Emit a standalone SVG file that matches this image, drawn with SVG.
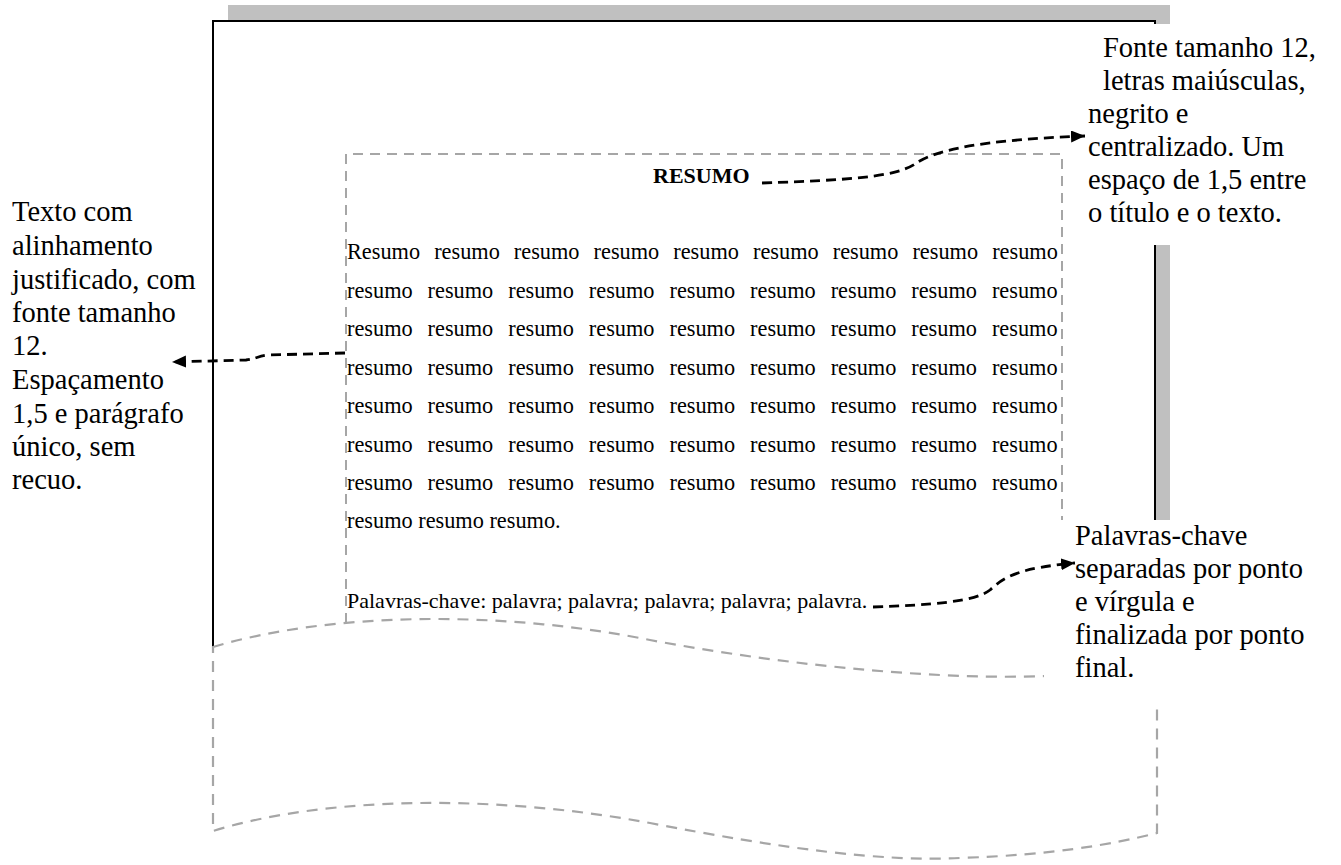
<svg xmlns="http://www.w3.org/2000/svg" width="1341" height="865" viewBox="0 0 1341 865">
  <defs>
    <marker id="arrow" markerUnits="userSpaceOnUse" markerWidth="16" markerHeight="14" refX="14" refY="6" orient="auto">
      <path d="M0,0 L14,6 L0,12 z" fill="#000"/>
    </marker>
    <style>
      .body { font-family: "Liberation Serif", "Times New Roman", serif; font-size: 22.3px; fill: #000; }
      .kw { font-family: "Liberation Serif", "Times New Roman", serif; font-size: 22px; fill: #000; }
      .lbl { font-family: "Liberation Serif", "Times New Roman", serif; font-size: 28.5px; fill: #000; }
      .title { font-family: "Liberation Serif", "Times New Roman", serif; font-size: 22px; font-weight: bold; fill: #000; }
      .gdash { fill: none; stroke: #a6a6a6; stroke-width: 2; stroke-dasharray: 10 7; }
      .conn { fill: none; stroke: #000; stroke-width: 2.8; stroke-dasharray: 10 6; }
      .bg { fill: #fff; stroke: none; }
    </style>
  </defs>

  <g id="page">
    <rect x="228" y="5" width="942" height="650" fill="#c0c0c0"/>
    <rect x="213" y="21" width="942" height="640" fill="#fff"/>
    <path d="M213,648 L213,21 L1155,21 L1155,660" fill="none" stroke="#000" stroke-width="2"/>
    <path class="gdash" d="M346,640 L346,154 L1062,154 L1062,640"/>
    <path d="M213,647 C330,612 500,610 650,640 C800,668 950,680 1045,676 C1090,674 1130,665 1157,655 L1157,833 C1110,845 1050,855 960,858 C880,862 780,848 650,823 C500,795 330,795 213,831 Z" fill="#fff" stroke="#a6a6a6" stroke-width="2.2" stroke-dasharray="11 8"/>
  </g>

  <g id="content">
    <text class="title" x="653" y="183">RESUMO</text>
    <text class="body" x="347" y="259" style="word-spacing:8.5px">Resumo resumo resumo resumo resumo resumo resumo resumo resumo</text>
    <text class="body" x="347" y="297.5" style="word-spacing:9.4px">resumo resumo resumo resumo resumo resumo resumo resumo resumo</text>
    <text class="body" x="347" y="336" style="word-spacing:9.4px">resumo resumo resumo resumo resumo resumo resumo resumo resumo</text>
    <text class="body" x="347" y="374.5" style="word-spacing:9.4px">resumo resumo resumo resumo resumo resumo resumo resumo resumo</text>
    <text class="body" x="347" y="413" style="word-spacing:9.4px">resumo resumo resumo resumo resumo resumo resumo resumo resumo</text>
    <text class="body" x="347" y="451.5" style="word-spacing:9.4px">resumo resumo resumo resumo resumo resumo resumo resumo resumo</text>
    <text class="body" x="347" y="490" style="word-spacing:9.4px">resumo resumo resumo resumo resumo resumo resumo resumo resumo</text>
    <text class="body" x="347" y="528">resumo resumo resumo.</text>
    <text class="kw" x="347" y="608">Palavras-chave: palavra; palavra; palavra; palavra; palavra.</text>
  </g>

  <g id="label-left">
    <rect class="bg" x="0" y="190" width="205" height="310"/>
    <text class="lbl" x="12" y="221">Texto com</text>
    <text class="lbl" x="12" y="255">alinhamento</text>
    <text class="lbl" x="12" y="289">justificado, com</text>
    <text class="lbl" x="12" y="322">fonte tamanho</text>
    <text class="lbl" x="12" y="355">12.</text>
    <text class="lbl" x="12" y="389">Espaçamento</text>
    <text class="lbl" x="12" y="423">1,5 e parágrafo</text>
    <text class="lbl" x="12" y="456">único, sem</text>
    <text class="lbl" x="12" y="489">recuo.</text>
  </g>

  <g id="label-title">
    <rect class="bg" x="1066" y="24" width="275" height="221"/>
    <text class="lbl" x="1103" y="57">Fonte tamanho 12,</text>
    <text class="lbl" x="1103" y="90">letras maiúsculas,</text>
    <text class="lbl" x="1088" y="123">negrito e</text>
    <text class="lbl" x="1088" y="156">centralizado. Um</text>
    <text class="lbl" x="1088" y="189">espaço de 1,5 entre</text>
    <text class="lbl" x="1088" y="222">o título e o texto.</text>
  </g>

  <g id="label-keywords">
    <rect class="bg" x="1044" y="520" width="297" height="185"/>
    <text class="lbl" x="1075" y="545">Palavras-chave</text>
    <text class="lbl" x="1075" y="578">separadas por ponto</text>
    <text class="lbl" x="1075" y="611">e vírgula e</text>
    <text class="lbl" x="1075" y="644">finalizada por ponto</text>
    <text class="lbl" x="1075" y="677">final.</text>
  </g>

  <g id="connectors">
    <path class="conn" d="M762,183 C850,180 895,177 915,164 C935,150 980,140 1085,136" marker-end="url(#arrow)"/>
    <path class="conn" d="M345,353 L268,355 C258,356 256,359 246,360 L172,362" marker-end="url(#arrow)"/>
    <path class="conn" d="M873,607 C930,605 975,602 990,590 C1005,576 1020,568 1075,563" marker-end="url(#arrow)"/>
  </g>
</svg>
